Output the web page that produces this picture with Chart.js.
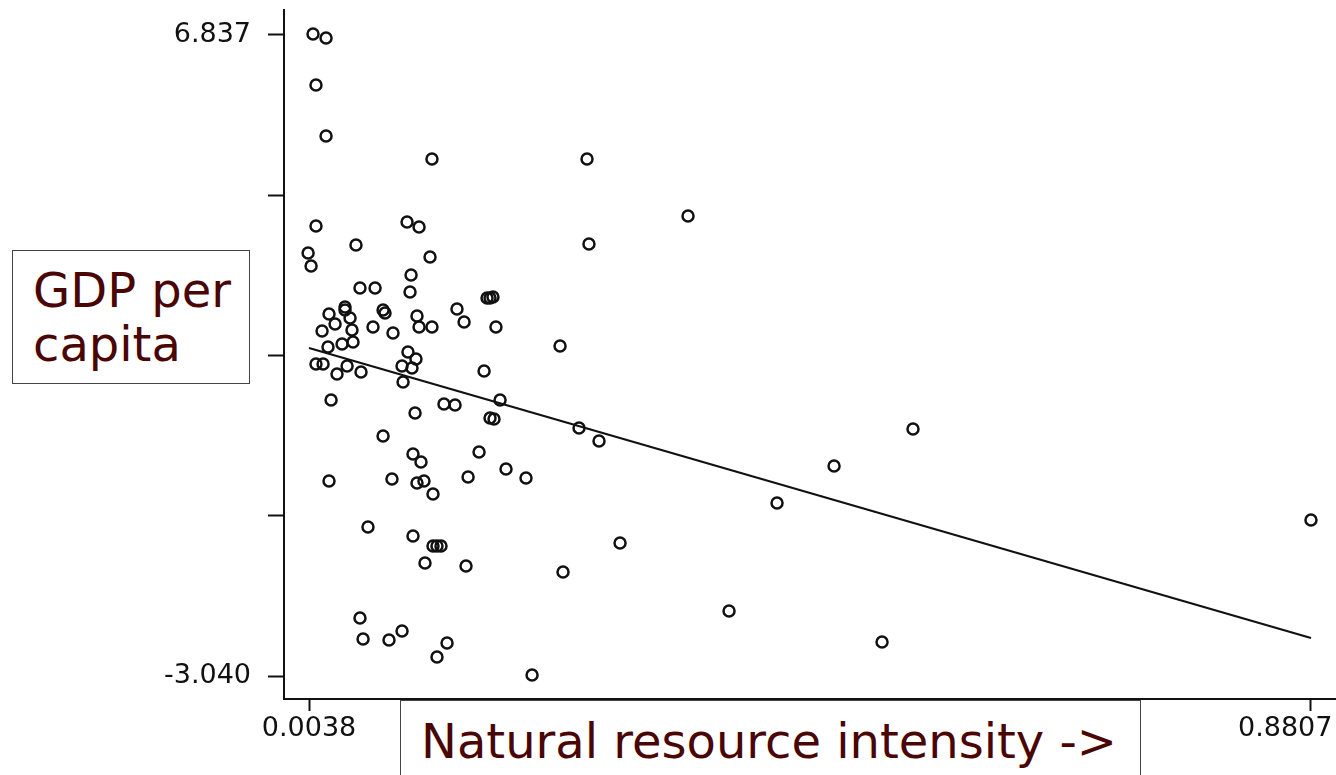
<!DOCTYPE html>
<html>
<head>
<meta charset="utf-8">
<script src="https://cdn.jsdelivr.net/npm/chart.js@4/dist/chart.umd.min.js"></script>
<style>
  body { margin: 0; background: #fff; }
  #wrap { position: relative; width: 1336px; height: 775px; overflow: hidden; }
  .note {
    position: absolute; background: #fff; border: 1.5px solid #444;
    color: #4a0505; font-family: "DejaVu Sans", Verdana, sans-serif;
    box-sizing: border-box;
  }
  #ylab { left: 12px; top: 250px; width: 238px; height: 134px; font-size: 48px; line-height: 54px; padding: 12px 0 0 20px; }
  #xlab { left: 400px; top: 700px; width: 741px; height: 90px; font-size: 48px; line-height: 54px; padding: 13px 0 0 20px; }
</style>
</head>
<body>
<div id="wrap">
  <canvas id="chart" width="1336" height="775"></canvas>
  <div class="note" id="ylab">GDP per<br>capita</div>
  <div class="note" id="xlab">Natural resource intensity -&gt;</div>
</div>
<script>
// natural resource intensity (x) and GDP per capita (y)
let intensity = [
  0.0073, 0.0187, 0.0099, 0.0187, 0.1114, 0.2471, 0.3355, 0.0099, 0.0896, 0.1001,
  0.0449, 0.2488, 0.0030, 0.0056, 0.1097, 0.0931, 0.0922, 0.0484, 0.0616, 0.0353,
  0.0353, 0.0686, 0.0703, 0.0213, 0.0397, 0.0266, 0.0152, 0.0414, 0.0598, 0.0773,
  0.0983, 0.1001, 0.1114, 0.1333, 0.1395, 0.1596, 0.1622, 0.1648, 0.1674, 0.0204,
  0.0327, 0.0423, 0.0904, 0.0974, 0.0852, 0.0939, 0.0861, 0.0099, 0.0161, 0.0283,
  0.0371, 0.0493, 0.2235, 0.1570, 0.0231, 0.1219, 0.1316, 0.1710, 0.0966, 0.1622,
  0.1657, 0.2401, 0.2576, 0.0686, 0.0948, 0.1018, 0.1526, 0.1762, 0.1937, 0.1430,
  0.0213, 0.0764, 0.0983, 0.1044, 0.1123, 0.0554, 0.0948, 0.1123, 0.1158, 0.1193,
  0.1053, 0.1412, 0.0484, 0.0511, 0.0738, 0.0852, 0.1246, 0.1158, 0.1990, 0.2261,
  0.2760, 0.3714, 0.4134, 0.4633, 0.5324, 0.5053, 0.8807
];
let gdp = [
  6.852, 6.791, 6.067, 5.281, 4.926, 4.926, 4.048, 3.894, 3.956, 3.878,
  3.601, 3.616, 3.478, 3.278, 3.416, 3.139, 2.877, 2.939, 2.939, 2.646,
  2.600, 2.600, 2.553, 2.538, 2.476, 2.384, 2.276, 2.291, 2.337, 2.245,
  2.507, 2.337, 2.337, 2.615, 2.415, 2.784, 2.784, 2.800, 2.337, 2.029,
  2.076, 2.107, 1.952, 1.845, 1.737, 1.706, 1.490, 1.768, 1.768, 1.613,
  1.737, 1.644, 2.045, 1.660, 1.213, 1.151, 1.136, 1.213, 1.012, 0.935,
  0.920, 0.781, 0.581, 0.658, 0.381, 0.257, 0.411, 0.149, 0.011, 0.026,
  -0.035, -0.005, -0.066, -0.035, -0.236, -0.744, -0.883, -1.037, -1.037, -1.037,
  -1.299, -1.345, -2.147, -2.470, -2.485, -2.347, -2.532, -2.747, -3.025, -1.438,
  -0.991, -2.039, -0.374, 0.196, 0.766, -2.516, -0.636
];

// fitted line end points
let fitX = [0.0038, 0.8807];
let fitY = [2.014, -2.455];

let xTicks = [0.0038, 0.2230, 0.4422, 0.6615, 0.8807];
let xTickLabels = ['0.0038', '', '', '', '0.8807'];
let yTicks = [-3.040, -0.571, 1.898, 4.368, 6.837];
let yTickLabels = ['-3.040', '', '', '', '6.837'];

let points = [];
for(let i = 0; i < intensity.length; i++){
  points.push({x: intensity[i], y: gdp[i]});
}
let fitLine = [];
for(let i = 0; i < fitX.length; i++){
  fitLine.push({x: fitX[i], y: fitY[i]});
}

let tickFont = {family: '"DejaVu Sans", sans-serif', size: 27};

let ctx = document.getElementById("chart").getContext("2d");
let chart = new Chart(ctx, {
  type: "scatter",
  data: {
    datasets: [{
      data: points,
      pointStyle: "circle",
      pointRadius: 5.5,
      borderWidth: 2.5,
      borderColor: "#111",
      backgroundColor: "rgba(0,0,0,0)",
      clip: false
    }, {
      data: fitLine,
      showLine: true,
      pointRadius: 0,
      borderWidth: 2.2,
      borderColor: "#111"
    }]
  },
  options: {
    responsive: false,
    animation: false,
    devicePixelRatio: 1,
    layout: {autoPadding: false, padding: {top: 10, right: 0, bottom: 0, left: 0}},
    plugins: {legend: {display: false}, tooltip: {enabled: false}},
    scales: {
      x: {
        type: "linear",
        min: -0.0181,
        max: 0.9026,
        afterBuildTicks: function(scale){
          scale.ticks = xTicks.map(v => ({value: v}));
        },
        afterFit: function(scale){
          scale.height = 76;
          scale.paddingLeft = 0;
          scale.paddingRight = 0;
        },
        border: {display: true, color: "#111", width: 2},
        grid: {drawOnChartArea: false, drawTicks: true, tickLength: 12, tickColor: "#111", tickWidth: 2},
        ticks: {
          autoSkip: false,
          maxRotation: 0,
          padding: 2,
          color: "#111",
          font: tickFont,
          callback: function(value, index){
            // the last label sits left of its tick in the original
            if(index == xTickLabels.length - 1)return xTickLabels[index] + "\u2007\u2007\u2007";
            return xTickLabels[index];
          }
        }
      },
      y: {
        type: "linear",
        min: -3.394,
        max: 7.222,
        afterBuildTicks: function(scale){
          scale.ticks = yTicks.map(v => ({value: v}));
        },
        afterFit: function(scale){
          scale.width = 284;
          scale.paddingTop = 0;
          scale.paddingBottom = 0;
        },
        border: {display: true, color: "#111", width: 2},
        grid: {drawOnChartArea: false, drawTicks: true, tickLength: 16, tickColor: "#111", tickWidth: 2},
        ticks: {
          autoSkip: false,
          padding: 17,
          color: "#111",
          font: tickFont,
          callback: function(value, index){
            return yTickLabels[index];
          }
        }
      }
    }
  }
});
</script>
</body>
</html>
